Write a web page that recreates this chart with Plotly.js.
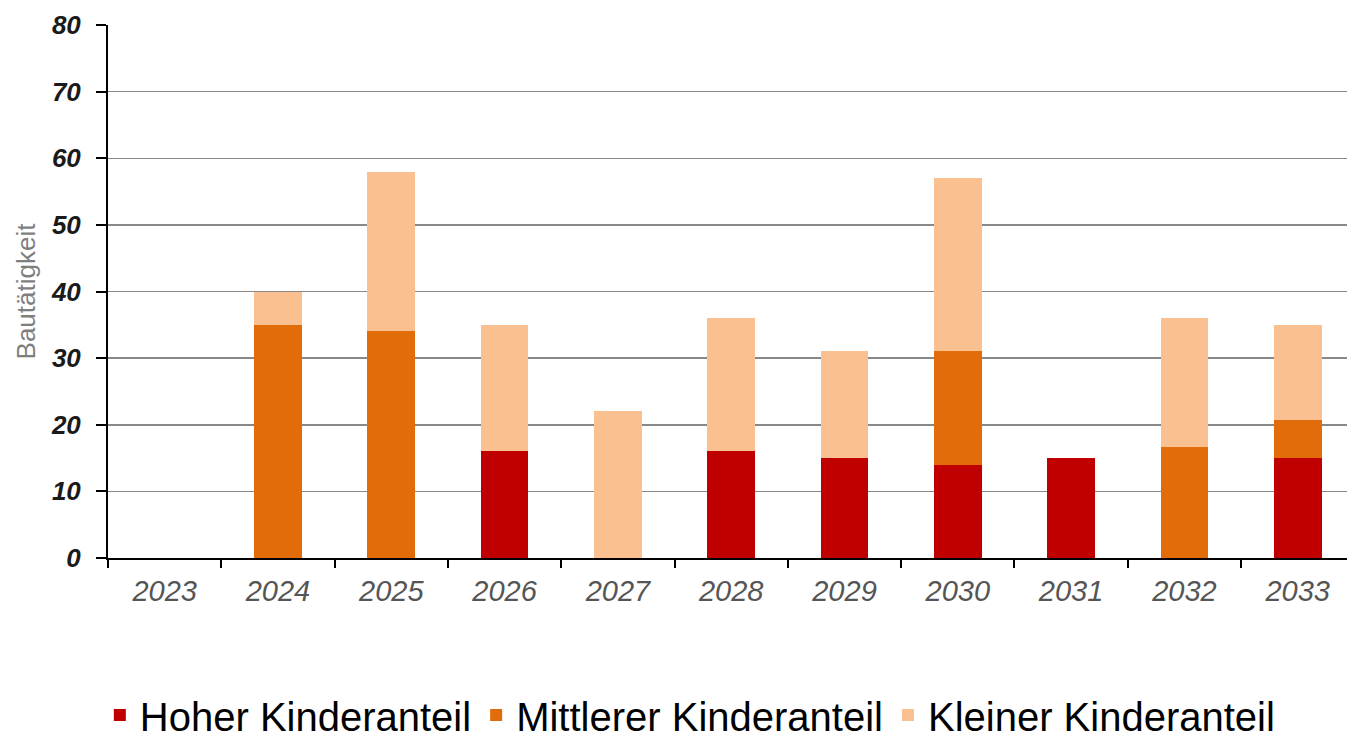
<!DOCTYPE html>
<html>
<head>
<meta charset="utf-8">
<script src="https://cdn.plot.ly/plotly-3.0.1.min.js"></script>
<style>
  html, body { margin: 0; padding: 0; background: #fff; }
  #chart { width: 1347px; height: 741px; }
</style>
</head>
<body>
<div id="chart"></div>
<script>
const jahre = ["2023", "2024", "2025", "2026", "2027", "2028", "2029", "2030", "2031", "2032", "2033"];
const hoher = [0, 0, 0, 16, 0, 16, 15, 14, 15, 0, 15];
const mittlerer = [0, 35, 34, 0, 0, 0, 0, 17, 0, 16.7, 5.7];
const kleiner = [0, 5, 24, 19, 22, 20, 16, 26, 0, 19.3, 14.3];

const farben = { hoher: "#C00000", mittlerer: "#E36C0A", kleiner: "#FAC090" };

const traces = [
  { x: jahre, y: hoher, name: "Hoher Kinderanteil", type: "bar", marker: { color: farben.hoher } },
  { x: jahre, y: mittlerer, name: "Mittlerer Kinderanteil", type: "bar", marker: { color: farben.mittlerer } },
  { x: jahre, y: kleiner, name: "Kleiner Kinderanteil", type: "bar", marker: { color: farben.kleiner } }
];

const layout = {
  width: 1347,
  height: 741,
  barmode: "stack",
  bargap: 0.58,
  paper_bgcolor: "#ffffff",
  plot_bgcolor: "#ffffff",
  font: { family: "Liberation Sans, Arial, sans-serif", color: "#222" },
  margin: { l: 108, r: 0, t: 25, b: 183, autoexpand: false },
  showlegend: true,
  legend: {
    orientation: "h",
    x: 0.47, xanchor: "center",
    yref: "container",
    y: 0.035, yanchor: "middle",
    font: { size: 40, color: "#000" },
    itemwidth: 30,
    traceorder: "normal"
  },
  xaxis: {
    type: "category",
    range: [-0.5, 10.435],
    showline: true, linecolor: "#000", linewidth: 2,
    ticks: "outside", tickson: "boundaries", ticklen: 8, tickcolor: "#000", tickwidth: 2,
    tickfont: { size: 29, color: "#555", style: "italic" },
    ticklabelstandoff: 6,
    showgrid: false
  },
  yaxis: {
    range: [0, 80],
    dtick: 10,
    showline: true, linecolor: "#000", linewidth: 2,
    ticks: "outside", ticklen: 10, tickcolor: "#000", tickwidth: 2,
    tickfont: { size: 26, color: "#1a1a1a", weight: "bold", style: "italic" },
    ticklabelstandoff: 10,
    showgrid: true, gridcolor: "#888", gridwidth: 1.5,
    zeroline: false,
    title: { text: "Bautätigkeit", font: { size: 26, color: "#7f7f7f" }, standoff: 8 }
  }
};

Plotly.newPlot("chart", traces, layout, { displayModeBar: false, staticPlot: true });
</script>
</body>
</html>
